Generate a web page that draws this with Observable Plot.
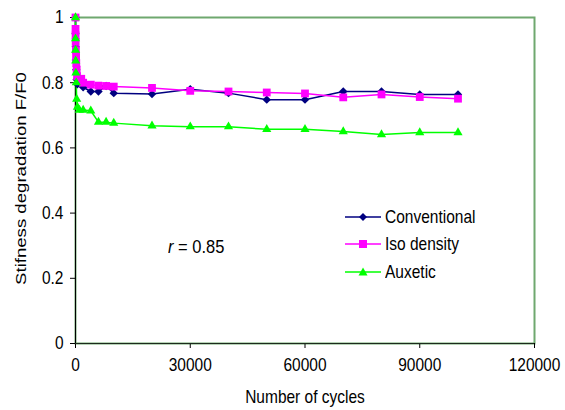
<!DOCTYPE html>
<html>
<head>
<meta charset="utf-8">
<script src="https://cdn.jsdelivr.net/npm/d3@7"></script>
<script src="https://cdn.jsdelivr.net/npm/@observablehq/plot@0.6"></script>
<style>
  body { margin: 0; background: #fff; }
  #wrap { position: relative; width: 565px; height: 410px; font-family: "Liberation Sans", Arial, sans-serif; color: #000; }
  .legend { position: absolute; left: 345px; top: 203px; }
  .row { position: relative; height: 27.5px; display: flex; align-items: center; }
  .row svg { width: 36px; height: 14px; margin-right: 4px; }
  .row span { font-size: 15.5px; display: inline-block; transform: scaleY(1.2); transform-origin: center; white-space: nowrap; }
  .note { position: absolute; left: 168px; top: 237px; font-size: 16.5px; transform: scaleY(1.15); white-space: nowrap; }
</style>
</head>
<body>
<div id="wrap"></div>
<script>
// ---- data ----
const seriesNames = ["Conventional", "Iso density", "Auxetic"];

const convCycles = [0, 10, 50, 100, 200, 300, 500, 2000, 4000, 6000, 8000, 10000, 20000, 30000, 40000, 50000, 60000, 70000, 80000, 90000, 100000];
const convValues = [1.0, 0.95, 0.91, 0.87, 0.84, 0.81, 0.795, 0.786, 0.773, 0.773, 0.79, 0.768, 0.765, 0.78, 0.768, 0.748, 0.748, 0.773, 0.773, 0.764, 0.764];

const isoCycles = [0, 10, 25, 50, 100, 150, 200, 300, 400, 1500, 2000, 4000, 6000, 8000, 10000, 20000, 30000, 40000, 50000, 60000, 70000, 80000, 90000, 100000];
const isoValues = [1.0, 0.965, 0.945, 0.925, 0.90, 0.88, 0.86, 0.84, 0.82, 0.812, 0.80, 0.794, 0.791, 0.79, 0.788, 0.784, 0.775, 0.773, 0.770, 0.767, 0.755, 0.764, 0.756, 0.751];

const auxCycles = [0, 10, 25, 50, 100, 200, 300, 500, 1000, 2000, 4000, 6000, 8000, 10000, 20000, 30000, 40000, 50000, 60000, 70000, 80000, 90000, 100000];
const auxValues = [1.0, 0.935, 0.90, 0.867, 0.83, 0.80, 0.75, 0.725, 0.716, 0.716, 0.714, 0.679, 0.679, 0.676, 0.668, 0.665, 0.665, 0.657, 0.657, 0.650, 0.641, 0.647, 0.647];

const xTicks = [0, 30000, 60000, 90000, 120000];
const yTicks = [0, 0.2, 0.4, 0.6, 0.8, 1];

const xTitle = "Number of cycles";
const yTitle = "Stifness degradation F/F0";

// ---- styling ----
const colors = ["#000080", "#FF00FF", "#00FF00"];
const symbols = ["diamond2", "square", "triangle"];
const radii = [3.8, 4.4, 3.4];
const FONT = "\"Liberation Sans\", Arial, sans-serif";
const K = 1.2; // vertical text stretch seen in the reference

const raw = [[convCycles, convValues], [isoCycles, isoValues], [auxCycles, auxValues]];
const rows = raw.flatMap(([c, v], s) => c.map((cy, i) => ({series: seriesNames[s], cycles: cy, value: v[i]})));

const lineMarks = seriesNames.map((name, i) =>
  Plot.line(rows.filter(d => d.series === name), {x: "cycles", y: "value", stroke: colors[i], strokeWidth: 1.5}));
const dotMarks = seriesNames.map((name, i) =>
  Plot.dot(rows.filter(d => d.series === name), {x: "cycles", y: "value", symbol: symbols[i], fill: colors[i], stroke: "none", r: radii[i]}));

const chart = Plot.plot({
  width: 565,
  height: 410,
  marginLeft: 75,
  marginRight: 31,
  marginTop: 17,
  marginBottom: 67,
  style: {fontFamily: FONT, fontSize: "15.5px", color: "#000", background: "#fff", overflow: "visible"},
  x: {domain: [0, 120000]},
  y: {domain: [0, 1]},
  marks: [
    Plot.frame({stroke: "#6fa86f", strokeWidth: 2}),
    Plot.axisX({ticks: xTicks, tickSize: 5, tickPadding: 9, tickFormat: d => String(d), label: null, stroke: "#000", fill: "#000"}),
    Plot.axisY({ticks: yTicks, tickSize: 5, tickPadding: 7, tickFormat: d => String(+d.toFixed(1)), label: null, stroke: "#000", fill: "#000"}),
    Plot.ruleX([0], {stroke: "#000"}),
    Plot.ruleY([0], {stroke: "#1c2a1c"}),
    ...lineMarks,
    ...dotMarks,
    Plot.text([xTitle], {text: d => d, frameAnchor: "bottom", dy: 54, lineAnchor: "middle", textAnchor: "middle", fill: "#000"}),
    Plot.text([yTitle], {text: d => d, frameAnchor: "left", rotate: -90, dx: -54, dy: -2, lineAnchor: "middle", textAnchor: "middle", fill: "#000"})
  ]
});

// stretch svg texts vertically like the reference
chart.querySelectorAll("text").forEach(el => {
  let t = el.getAttribute("transform") || "";
  const xa = el.getAttribute("x"), ya = el.getAttribute("y");
  if (xa && !/em/.test(xa)) { t += ` translate(${xa},0)`; el.removeAttribute("x"); }
  if (ya && !/em/.test(ya)) { t += ` translate(0,${ya})`; el.removeAttribute("y"); }
  if (/rotate/.test(t)) t += ` scale(${K},1)`; else t += ` scale(1,${K})`;
  el.setAttribute("transform", t);
});

const wrap = document.getElementById("wrap");
wrap.appendChild(chart);

// legend
const legend = document.createElement("div");
legend.className = "legend";
const symPath = [
  '<path d="M18,3 L22,7 L18,11 L14,7 Z" fill="#000080"/>',
  '<rect x="14" y="3" width="8" height="8" fill="#FF00FF"/>',
  '<path d="M18,2.5 L22.5,10.5 L13.5,10.5 Z" fill="#00FF00"/>'
];
seriesNames.forEach((name, i) => {
  const row = document.createElement("div");
  row.className = "row";
  row.innerHTML = `<svg viewBox="0 0 36 14"><line x1="0" x2="36" y1="7" y2="7" stroke="${colors[i]}" stroke-width="1.5"/>${symPath[i]}</svg><span>${name}</span>`;
  legend.appendChild(row);
});
wrap.appendChild(legend);

// annotation
const note = document.createElement("div");
note.className = "note";
note.innerHTML = "<i>r</i> = 0.85";
wrap.appendChild(note);
</script>
</body>
</html>
